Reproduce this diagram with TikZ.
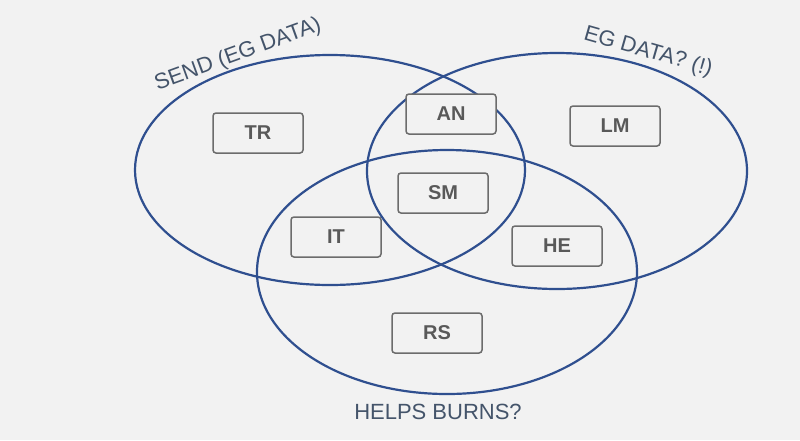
\documentclass[tikz,border=0pt]{standalone}
\usepackage{fontspec}
\setmainfont{Liberation Sans}
\definecolor{bg}{HTML}{F2F2F2}
\definecolor{ring}{HTML}{2F4F8F}
\definecolor{lab}{HTML}{44546A}
\definecolor{boxtxt}{HTML}{595959}
\begin{document}
\begin{tikzpicture}[x=1pt,y=-1pt,
  ring/.style={draw=ring,line width=2.2pt},
  tag/.style={draw=gray!85!black,fill=bg,rounded corners=3pt,line width=1.5pt,minimum width=90pt,minimum height=40pt,text=boxtxt,font=\fontsize{20}{22}\selectfont\bfseries},
  caplabel/.style={text=lab,font=\fontsize{22}{24}\selectfont}]
\fill[bg] (0,0) rectangle (800,440);
\draw[ring] (330,170) ellipse [x radius=195,y radius=115];
\draw[ring] (557,171) ellipse [x radius=190,y radius=118];
\draw[ring] (447,272) ellipse [x radius=190,y radius=122];
\node[tag] (tr) at (258,133) {TR};
\node[tag] (an) at (451,114) {AN};
\node[tag] (lm) at (615,126) {LM};
\node[tag] (sm) at (443,193) {SM};
\node[tag] (it) at (336,237) {IT};
\node[tag] (he) at (557,246) {HE};
\node[tag] (rs) at (437,333) {RS};
\node[caplabel,rotate=20] (l1) at (238,55) {SEND (EG DATA)};
\node[caplabel,rotate=-16] (l2) at (648,52) {EG DATA? (!)};
\node[caplabel] (l3) at (438,412) {HELPS BURNS?};
\end{tikzpicture}
\end{document}
